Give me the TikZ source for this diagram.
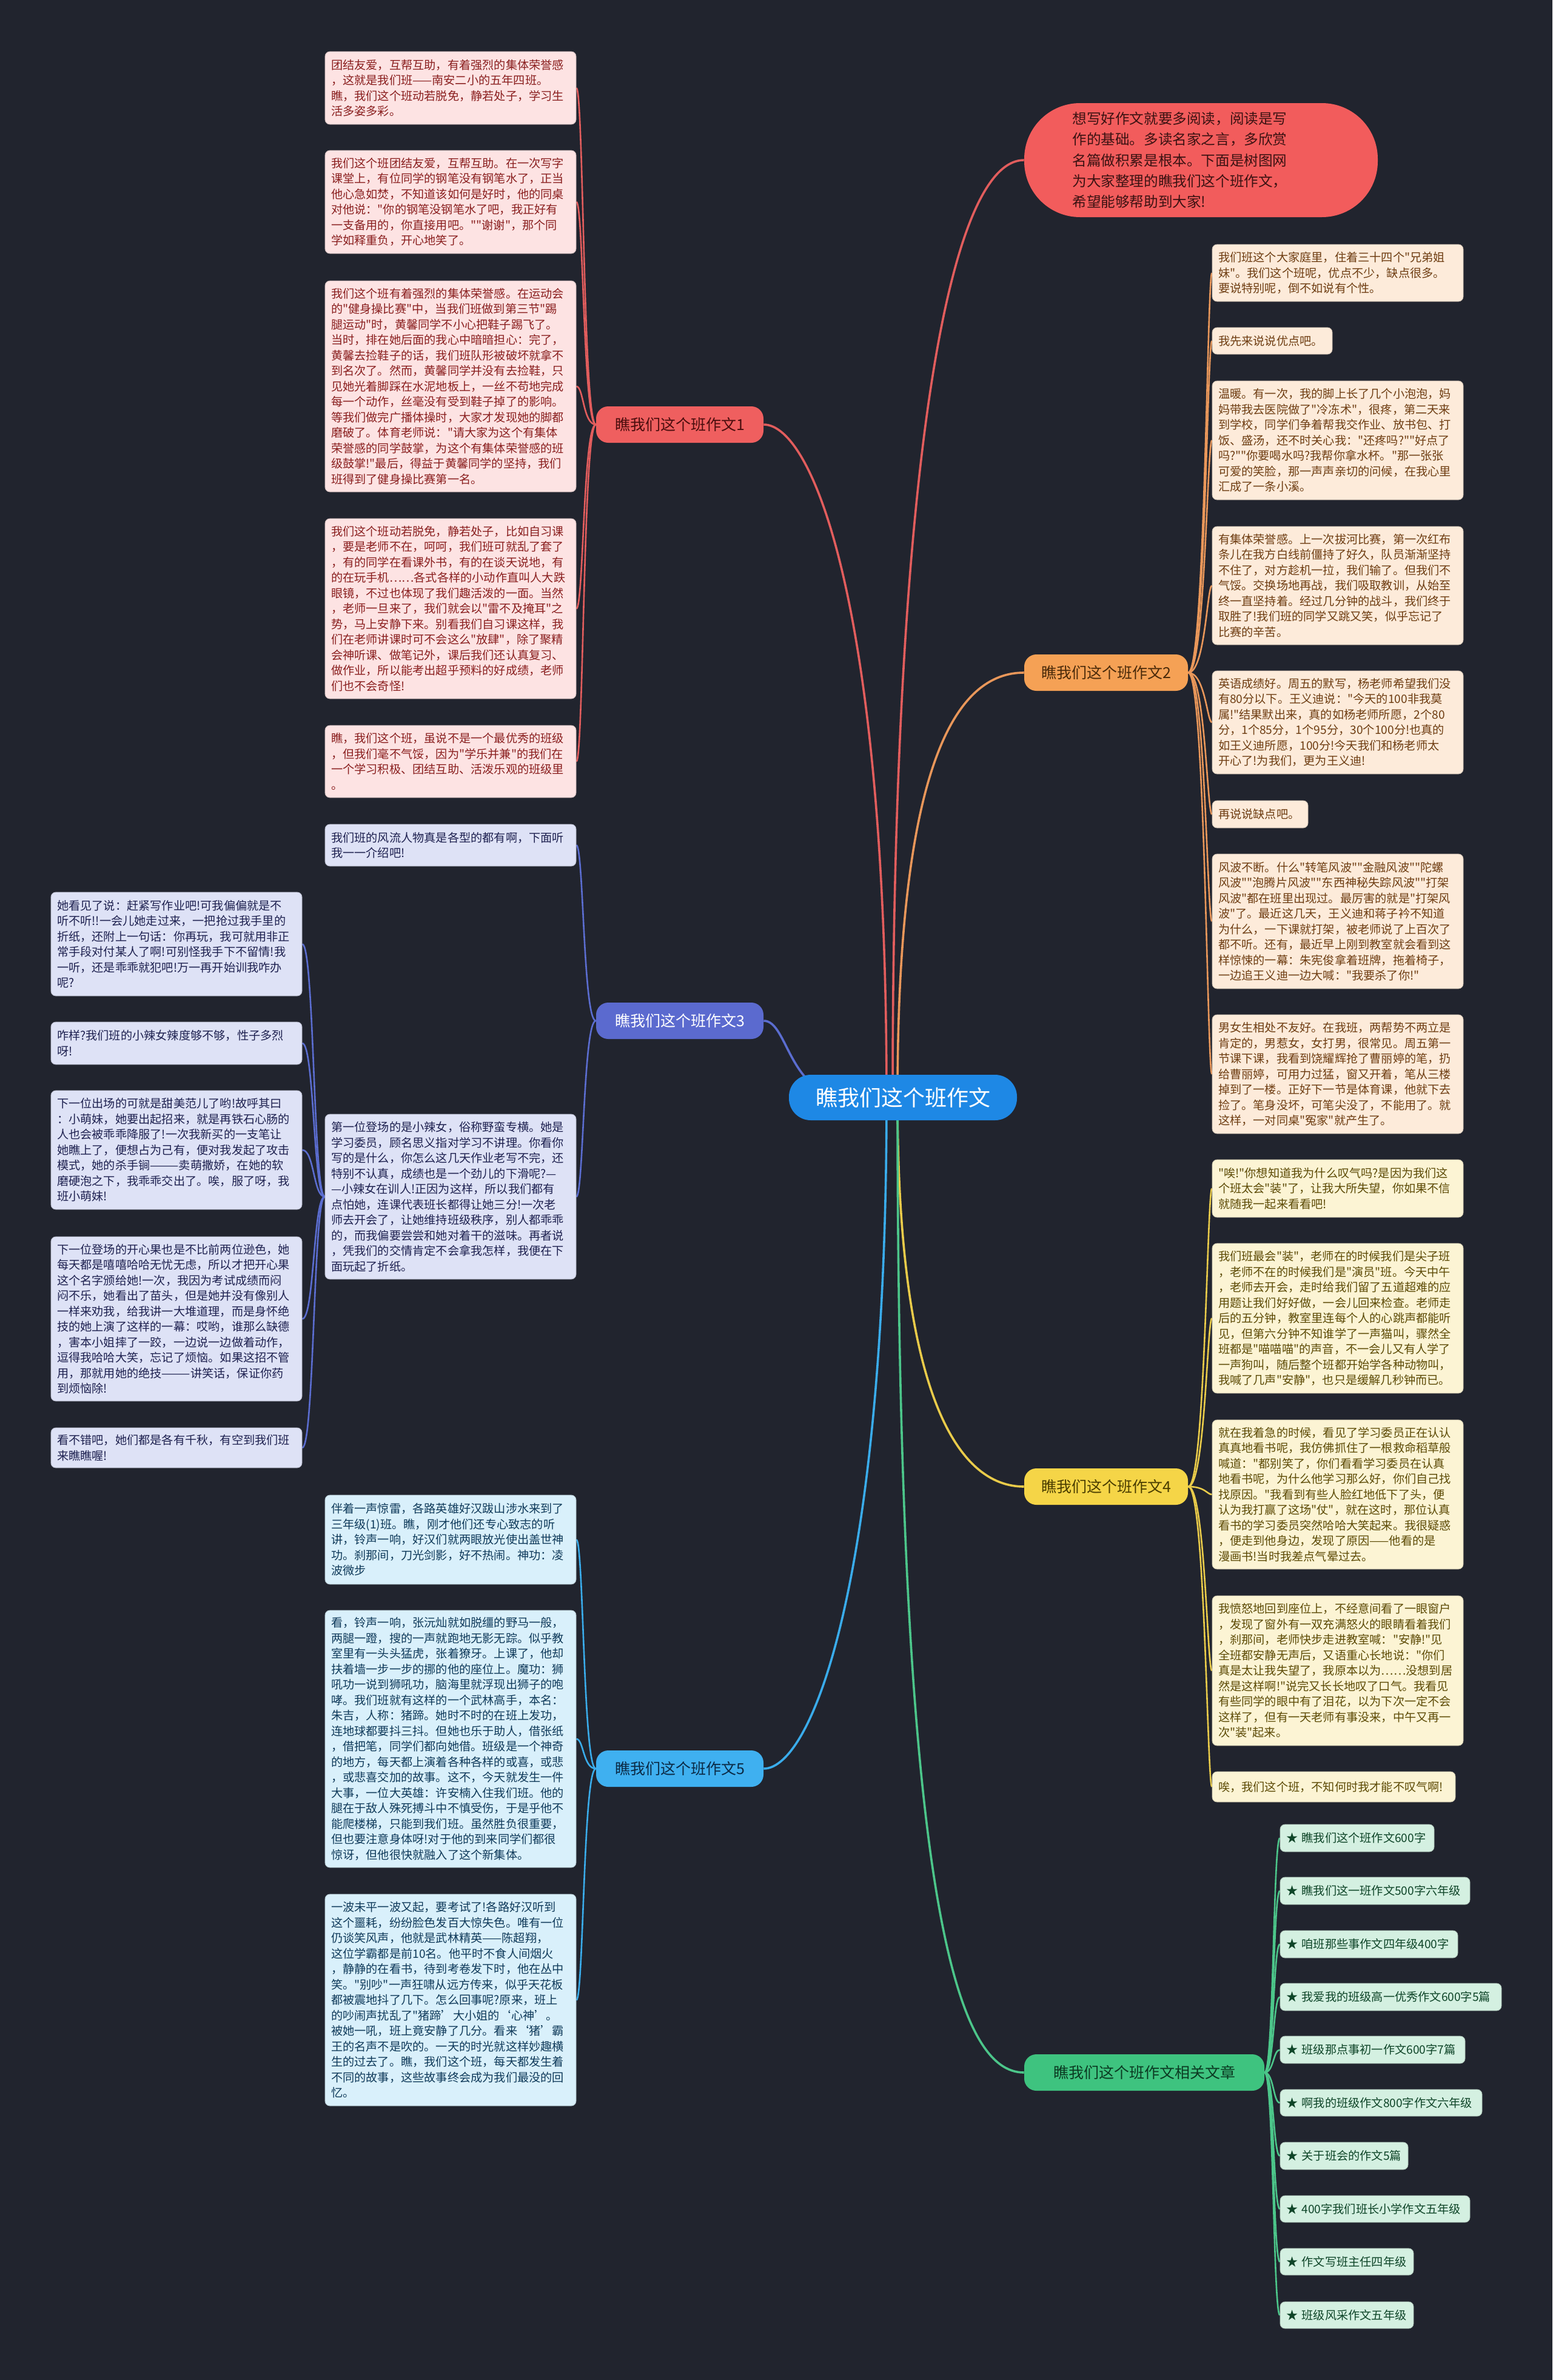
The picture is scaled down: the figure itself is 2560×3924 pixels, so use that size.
\documentclass[tikz,border=0pt]{standalone}
\usepackage{fontspec}
\setmainfont{Noto Sans CJK SC}[Ligatures=TeXOff]
\definecolor{bgcol}{HTML}{21242E}
\definecolor{cenfill}{HTML}{1E88E5}
\definecolor{bubfill}{HTML}{F25C5C}
\definecolor{bubtext}{HTML}{3B1212}
\definecolor{bAfill}{HTML}{EF5F5F}\definecolor{bAtext}{HTML}{4A0D0D}
\definecolor{bBfill}{HTML}{F5A155}\definecolor{bBtext}{HTML}{4A2A0A}
\definecolor{bCfill}{HTML}{5B6ACF}\definecolor{bCtext}{HTML}{FFFFFF}
\definecolor{bDfill}{HTML}{F5D547}\definecolor{bDtext}{HTML}{4A3D00}
\definecolor{bEfill}{HTML}{3FB0F0}\definecolor{bEtext}{HTML}{0B2A45}
\definecolor{bFfill}{HTML}{3EC37F}\definecolor{bFtext}{HTML}{0B3A22}
\definecolor{pinkfill}{HTML}{FDE3E3}\definecolor{pinktext}{HTML}{8A1F1F}
\definecolor{lavfill}{HTML}{DEE2F6}\definecolor{lavtext}{HTML}{1E2150}
\definecolor{peachfill}{HTML}{FDEBDA}\definecolor{peachtext}{HTML}{6E3D12}
\definecolor{yelfill}{HTML}{FCF4D4}\definecolor{yeltext}{HTML}{5C4A05}
\definecolor{cyanfill}{HTML}{D9F0FB}\definecolor{cyantext}{HTML}{0F3A5A}
\definecolor{mintfill}{HTML}{D4F0E1}\definecolor{minttext}{HTML}{0E4528}
\definecolor{lA}{HTML}{E25D5D}\definecolor{lB}{HTML}{E9975A}
\definecolor{lC}{HTML}{5B6DD0}\definecolor{lD}{HTML}{E9CB4A}
\definecolor{lE}{HTML}{3AACEB}\definecolor{lF}{HTML}{4CC68A}
\pgfdeclarelayer{bg}
\pgfsetlayers{bg,main}
\newcommand\leafbox[7]{%
  \pgfmathsetlengthmacro\lbw{(#5-#3)*0.5pt}%
  \pgfmathsetlengthmacro\lbh{(#6-#4)*0.5pt}%
  \pgfmathsetlengthmacro\lbt{(#5-#3)*0.5pt-10pt}%
  \node[#2, minimum width=\lbw, minimum height=\lbh, text width=\lbt] (#1) at ({(#3+#5)/2},{(#4+#6)/2}) {#7};%
}
\tikzset{
  box/.style={draw, line width=0.4pt, rounded corners=4pt, inner xsep=5pt, inner ysep=0pt, align=left, font=\fontsize{9.6}{12.75}\selectfont},
  pinkleaf/.style={box, fill=pinkfill, draw=pinkfill!80!black, text=pinktext},
  lavleaf/.style={box, fill=lavfill, draw=lavfill!80!black, text=lavtext},
  peachleaf/.style={box, fill=peachfill, draw=peachfill!80!black, text=peachtext},
  yelleaf/.style={box, fill=yelfill, draw=yelfill!80!black, text=yeltext},
  cyanleaf/.style={box, fill=cyanfill, draw=cyanfill!80!black, text=cyantext},
  mintleaf/.style={box, fill=mintfill, draw=mintfill!80!black, text=minttext},
  branchbox/.style={rounded corners=10pt, inner xsep=5pt, inner ysep=0pt, align=center, font=\fontsize{12.5}{15}\selectfont},
  main/.style={line width=1.8pt},
  sub/.style={line width=1.3pt},
}
\begin{document}
\begin{tikzpicture}[x=0.5pt,y=-0.5pt]
\useasboundingbox (0,0) rectangle (2560,3924);
\begin{pgfonlayer}{bg}
\fill[bgcol] (0,0) rectangle (2560,3924);
\end{pgfonlayer}

% center
\leafbox{cen}{branchbox, rounded corners=18pt, fill=cenfill, text=white, font=\fontsize{18}{22}\selectfont}{1301}{1772}{1677}{1847}{瞧我们这个班作文}
\coordinate (o) at (1489,1809);

% bubble
\leafbox{bub}{branchbox, rounded corners=46pt, fill=bubfill}{1689}{170}{2272}{358}{}
\node[anchor=west, align=left, text=bubtext, inner sep=0pt, font=\fontsize{11.8}{17.2}\selectfont] (bubtxt) at (1768,264) {想写好作文就要多阅读，阅读是写\\作的基础。多读名家之言，多欣赏\\名篇做积累是根本。下面是树图网\\为大家整理的瞧我们这个班作文，\\希望能够帮助到大家!};

% branches
\leafbox{bA}{branchbox, fill=bAfill, text=bAtext}{983}{670}{1259}{730}{瞧我们这个班作文1}
\leafbox{bB}{branchbox, fill=bBfill, text=bBtext}{1689}{1079}{1959}{1139}{瞧我们这个班作文2}
\leafbox{bC}{branchbox, fill=bCfill, text=bCtext}{983}{1653}{1259}{1713}{瞧我们这个班作文3}
\leafbox{bD}{branchbox, fill=bDfill, text=bDtext}{1689}{2421}{1959}{2481}{瞧我们这个班作文4}
\leafbox{bE}{branchbox, fill=bEfill, text=bEtext}{983}{2886}{1259}{2946}{瞧我们这个班作文5}
\leafbox{bF}{branchbox, fill=bFfill, text=bFtext}{1689}{3387}{2085}{3447}{瞧我们这个班作文相关文章}

% branch 1 leaves
\leafbox{a1}{pinkleaf}{536}{85}{950}{205}{团结友爱，互帮互助，有着强烈的集体荣誉感\\，这就是我们班——南安二小的五年四班。\\瞧，我们这个班动若脱免，静若处子，学习生\\活多姿多彩。}
\leafbox{a2}{pinkleaf}{536}{248}{950}{418}{我们这个班团结友爱，互帮互助。在一次写字\\课堂上，有位同学的钢笔没有钢笔水了，正当\\他心急如焚，不知道该如何是好时，他的同桌\\对他说："你的钢笔没钢笔水了吧，我正好有\\一支备用的，你直接用吧。""谢谢"，那个同\\学如释重负，开心地笑了。}
\leafbox{a3}{pinkleaf}{536}{463}{950}{811}{我们这个班有着强烈的集体荣誉感。在运动会\\的"健身操比赛"中，当我们班做到第三节"踢\\腿运动"时，黄馨同学不小心把鞋子踢飞了。\\当时，排在她后面的我心中暗暗担心：完了，\\黄馨去捡鞋子的话，我们班队形被破坏就拿不\\到名次了。然而，黄馨同学并没有去捡鞋，只\\见她光着脚踩在水泥地板上，一丝不苟地完成\\每一个动作，丝毫没有受到鞋子掉了的影响。\\等我们做完广播体操时，大家才发现她的脚都\\磨破了。体育老师说："请大家为这个有集体\\荣誉感的同学鼓掌，为这个有集体荣誉感的班\\级鼓掌!"最后，得益于黄馨同学的坚持，我们\\班得到了健身操比赛第一名。}
\leafbox{a4}{pinkleaf}{536}{855}{950}{1152}{我们这个班动若脱免，静若处子，比如自习课\\，要是老师不在，呵呵，我们班可就乱了套了\\，有的同学在看课外书，有的在谈天说地，有\\的在玩手机……各式各样的小动作直叫人大跌\\眼镜，不过也体现了我们趣活泼的一面。当然\\，老师一旦来了，我们就会以"雷不及掩耳"之\\势，马上安静下来。别看我们自习课这样，我\\们在老师讲课时可不会这么"放肆"，除了聚精\\会神听课、做笔记外，课后我们还认真复习、\\做作业，所以能考出超乎预料的好成绩，老师\\们也不会奇怪!}
\leafbox{a5}{pinkleaf}{536}{1196}{950}{1315}{瞧，我们这个班，虽说不是一个最优秀的班级\\，但我们毫不气馁，因为"学乐并兼"的我们在\\一个学习积极、团结互助、活泼乐观的班级里\\。}

% branch 3 leaves
\leafbox{p1}{lavleaf}{536}{1359}{950}{1428}{我们班的风流人物真是各型的都有啊，下面听\\我一一介绍吧!}
\leafbox{p2}{lavleaf}{536}{1837}{950}{2109}{第一位登场的是小辣女，俗称野蛮专横。她是\\学习委员，顾名思义指对学习不讲理。你看你\\写的是什么，你怎么这几天作业老写不完，还\\特别不认真，成绩也是一个劲儿的下滑呢?—\\—小辣女在训人!正因为这样，所以我们都有\\点怕她，连课代表班长都得让她三分!一次老\\师去开会了，让她维持班级秩序，别人都乖乖\\的，而我偏要尝尝和她对着干的滋味。再者说\\，凭我们的交情肯定不会拿我怎样，我便在下\\面玩起了折纸。}
\leafbox{l1}{lavleaf}{84}{1471}{498}{1642}{她看见了说：赶紧写作业吧!可我偏偏就是不\\听不听!!一会儿她走过来，一把抢过我手里的\\折纸，还附上一句话：你再玩，我可就用非正\\常手段对付某人了啊!可别怪我手下不留情!我\\一听，还是乖乖就犯吧!万一再开始训我咋办\\呢?}
\leafbox{l2}{lavleaf}{84}{1685}{498}{1755}{咋样?我们班的小辣女辣度够不够，性子多烈\\呀!}
\leafbox{l3}{lavleaf}{84}{1798}{498}{1994}{下一位出场的可就是甜美范儿了哟!故呼其曰\\：小萌妹，她要出起招来，就是再铁石心肠的\\人也会被乖乖降服了!一次我新买的一支笔让\\她瞧上了，便想占为己有，便对我发起了攻击\\模式，她的杀手锏———卖萌撒娇，在她的软\\磨硬泡之下，我乖乖交出了。唉，服了呀，我\\班小萌妹!}
\leafbox{l4}{lavleaf}{84}{2039}{498}{2310}{下一位登场的开心果也是不比前两位逊色，她\\每天都是嘻嘻哈哈无忧无虑，所以才把开心果\\这个名字颁给她!一次，我因为考试成绩而闷\\闷不乐，她看出了苗头，但是她并没有像别人\\一样来劝我，给我讲一大堆道理，而是身怀绝\\技的她上演了这样的一幕：哎哟，谁那么缺德\\，害本小姐摔了一跤，一边说一边做着动作，\\逗得我哈哈大笑，忘记了烦恼。如果这招不管\\用，那就用她的绝技———讲笑话，保证你药\\到烦恼除!}
\leafbox{l5}{lavleaf}{84}{2354}{498}{2420}{看不错吧，她们都是各有千秋，有空到我们班\\来瞧瞧喔!}

% branch 5 leaves
\leafbox{c1}{cyanleaf}{536}{2465}{950}{2612}{伴着一声惊雷，各路英雄好汉跋山涉水来到了\\三年级(1)班。瞧，刚才他们还专心致志的听\\讲，铃声一响，好汉们就两眼放光使出盖世神\\功。刹那间，刀光剑影，好不热闹。神功：凌\\波微步}
\leafbox{c2}{cyanleaf}{536}{2655}{950}{3079}{看，铃声一响，张沅灿就如脱缰的野马一般，\\两腿一蹬，搜的一声就跑地无影无踪。似乎教\\室里有一头头猛虎，张着獠牙。上课了，他却\\扶着墙一步一步的挪的他的座位上。魔功：狮\\吼功一说到狮吼功，脑海里就浮现出狮子的咆\\哮。我们班就有这样的一个武林高手，本名：\\朱吉，人称：猪蹄。她时不时的在班上发功，\\连地球都要抖三抖。但她也乐于助人，借张纸\\，借把笔，同学们都向她借。班级是一个神奇\\的地方，每天都上演着各种各样的或喜，或悲\\，或悲喜交加的故事。这不，今天就发生一件\\大事，一位大英雄：许安楠入住我们班。他的\\腿在于敌人殊死搏斗中不慎受伤，于是乎他不\\能爬楼梯，只能到我们班。虽然胜负很重要，\\但也要注意身体呀!对于他的到来同学们都很\\惊讶，但他很快就融入了这个新集体。}
\leafbox{c3}{cyanleaf}{536}{3123}{950}{3472}{一波未平一波又起，要考试了!各路好汉听到\\这个噩耗，纷纷脸色发百大惊失色。唯有一位\\仍谈笑风声，他就是武林精英——陈超翔，\\这位学霸都是前10名。他平时不食人间烟火\\，静静的在看书，待到考卷发下时，他在丛中\\笑。"别吵"一声狂啸从远方传来，似乎天花板\\都被震地抖了几下。怎么回事呢?原来，班上\\的吵闹声扰乱了"猪蹄’大小姐的‘心神’。\\被她一吼，班上竟安静了几分。看来‘猪’霸\\王的名声不是吹的。一天的时光就这样妙趣横\\生的过去了。瞧，我们这个班，每天都发生着\\不同的故事，这些故事终会成为我们最没的回\\忆。}

% branch 2 leaves
\leafbox{o1}{peachleaf}{1999}{403}{2413}{497}{我们班这个大家庭里，住着三十四个"兄弟姐\\妹"。我们这个班呢，优点不少，缺点很多。\\要说特别呢，倒不如说有个性。}
\leafbox{o2}{peachleaf}{1999}{540}{2197}{584}{我先来说说优点吧。}
\leafbox{o3}{peachleaf}{1999}{628}{2413}{824}{温暖。有一次，我的脚上长了几个小泡泡，妈\\妈带我去医院做了"冷冻术"，很疼，第二天来\\到学校，同学们争着帮我交作业、放书包、打\\饭、盛汤，还不时关心我："还疼吗?""好点了\\吗?""你要喝水吗?我帮你拿水杯。"那一张张\\可爱的笑脸，那一声声亲切的问候，在我心里\\汇成了一条小溪。}
\leafbox{o4}{peachleaf}{1999}{868}{2413}{1063}{有集体荣誉感。上一次拔河比赛，第一次红布\\条儿在我方白线前僵持了好久，队员渐渐坚持\\不住了，对方趁机一拉，我们输了。但我们不\\气馁。交换场地再战，我们吸取教训，从始至\\终一直坚持着。经过几分钟的战斗，我们终于\\取胜了!我们班的同学又跳又笑，似乎忘记了\\比赛的辛苦。}
\leafbox{o5}{peachleaf}{1999}{1106}{2413}{1276}{英语成绩好。周五的默写，杨老师希望我们没\\有80分以下。王义迪说："今天的100非我莫\\属!"结果默出来，真的如杨老师所愿，2个80\\分，1个85分，1个95分，30个100分!也真的\\如王义迪所愿，100分!今天我们和杨老师太\\开心了!为我们，更为王义迪!}
\leafbox{o6}{peachleaf}{1999}{1320}{2157}{1365}{再说说缺点吧。}
\leafbox{o7}{peachleaf}{1999}{1408}{2413}{1630}{风波不断。什么"转笔风波""金融风波""陀螺\\风波""泡腾片风波""东西神秘失踪风波""打架\\风波"都在班里出现过。最厉害的就是"打架风\\波"了。最近这几天，王义迪和蒋子衿不知道\\为什么，一下课就打架，被老师说了上百次了\\都不听。还有，最近早上刚到教室就会看到这\\样惊悚的一幕：朱宪俊拿着班牌，拖着椅子，\\一边追王义迪一边大喊："我要杀了你!"}
\leafbox{o8}{peachleaf}{1999}{1673}{2413}{1869}{男女生相处不友好。在我班，两帮势不两立是\\肯定的，男惹女，女打男，很常见。周五第一\\节课下课，我看到饶耀辉抢了曹丽婷的笔，扔\\给曹丽婷，可用力过猛，窗又开着，笔从三楼\\掉到了一楼。正好下一节是体育课，他就下去\\捡了。笔身没坏，可笔尖没了，不能用了。就\\这样，一对同桌"冤家"就产生了。}

% branch 4 leaves
\leafbox{y1}{yelleaf}{1999}{1912}{2413}{2007}{"唉!"你想知道我为什么叹气吗?是因为我们这\\个班太会"装"了，让我大所失望，你如果不信\\就随我一起来看看吧!}
\leafbox{y2}{yelleaf}{1999}{2050}{2413}{2297}{我们班最会"装"，老师在的时候我们是尖子班\\，老师不在的时候我们是"演员"班。今天中午\\，老师去开会，走时给我们留了五道超难的应\\用题让我们好好做，一会儿回来检查。老师走\\后的五分钟，教室里连每个人的心跳声都能听\\见，但第六分钟不知谁学了一声猫叫，骤然全\\班都是"喵喵喵"的声音，不一会儿又有人学了\\一声狗叫，随后整个班都开始学各种动物叫，\\我喊了几声"安静"，也只是缓解几秒钟而已。}
\leafbox{y3}{yelleaf}{1999}{2341}{2413}{2587}{就在我着急的时候，看见了学习委员正在认认\\真真地看书呢，我仿佛抓住了一根救命稻草般\\喊道："都别笑了，你们看看学习委员在认真\\地看书呢，为什么他学习那么好，你们自己找\\找原因。"我看到有些人脸红地低下了头，便\\认为我打赢了这场"仗"，就在这时，那位认真\\看书的学习委员突然哈哈大笑起来。我很疑惑\\，便走到他身边，发现了原因——他看的是\\漫画书!当时我差点气晕过去。}
\leafbox{y4}{yelleaf}{1999}{2631}{2413}{2878}{我愤怒地回到座位上，不经意间看了一眼窗户\\，发现了窗外有一双充满怒火的眼睛看着我们\\，刹那间，老师快步走进教室喊："安静!"见\\全班都安静无声后，又语重心长地说："你们\\真是太让我失望了，我原本以为……没想到居\\然是这样啊!"说完又长长地叹了口气。我看见\\有些同学的眼中有了泪花，以为下次一定不会\\这样了，但有一天老师有事没来，中午又再一\\次"装"起来。}
\leafbox{y5}{yelleaf}{1999}{2921}{2400}{2971}{唉，我们这个班，不知何时我才能不叹气啊!}

% branch 6 leaves
\leafbox{g1}{mintleaf}{2111}{3008}{2365}{3053}{★ 瞧我们这个班作文600字}
\leafbox{g2}{mintleaf}{2111}{3095}{2424}{3140}{★ 瞧我们这一班作文500字六年级}
\leafbox{g3}{mintleaf}{2111}{3183}{2404}{3228}{★ 咱班那些事作文四年级400字}
\leafbox{g4}{mintleaf}{2111}{3270}{2476}{3315}{★ 我爱我的班级高一优秀作文600字5篇}
\leafbox{g5}{mintleaf}{2111}{3357}{2416}{3402}{★ 班级那点事初一作文600字7篇}
\leafbox{g6}{mintleaf}{2111}{3445}{2444}{3489}{★ 啊我的班级作文800字作文六年级}
\leafbox{g7}{mintleaf}{2111}{3532}{2322}{3577}{★ 关于班会的作文5篇}
\leafbox{g8}{mintleaf}{2111}{3620}{2424}{3664}{★ 400字我们班长小学作文五年级}
\leafbox{g9}{mintleaf}{2111}{3707}{2331}{3751}{★ 作文写班主任四年级}
\leafbox{g10}{mintleaf}{2111}{3795}{2331}{3839}{★ 班级风采作文五年级}

\begin{pgfonlayer}{bg}
% center connectors
\draw[main, lA] (1462,1809) .. controls (1462,1000) and (1340,700) .. (bA.east);
\draw[main, lA] (1472,1809) .. controls (1472,800) and (1560,264) .. (bub.west);
\draw[main, lB] (1480,1809) .. controls (1480,1250) and (1580,1109) .. (bB.west);
\draw[main, lC] (1400,1809) .. controls (1300,1809) and (1300,1683) .. (bC.east);
\draw[main, lD] (1480,1809) .. controls (1480,2300) and (1580,2451) .. (bD.west);
\draw[main, lE] (1462,1809) .. controls (1462,2600) and (1340,2916) .. (bE.east);
\draw[main, lF] (1480,1809) .. controls (1480,3150) and (1580,3417) .. (bF.west);
% leaf connectors
\foreach \c in {a1,a2,a3,a4,a5}
  \draw[sub, lA] (bA.west) .. controls +(-21,0) and +(12,0) .. (\c.east);
\foreach \c in {p1,p2}
  \draw[sub, lC] (bC.west) .. controls +(-21,0) and +(12,0) .. (\c.east);
\foreach \c in {l1,l2,l3,l4,l5}
  \draw[sub, lC] (p2.west) .. controls +(-19,0) and +(20,0) .. (\c.east);
\foreach \c in {c1,c2,c3}
  \draw[sub, lE] (bE.west) .. controls +(-21,0) and +(12,0) .. (\c.east);
\foreach \c in {o1,o2,o3,o4,o5,o6,o7,o8}
  \draw[sub, lB] (bB.east) .. controls +(28,0) and +(-8,0) .. (\c.west);
\foreach \c in {y1,y2,y3,y4,y5}
  \draw[sub, lD] (bD.east) .. controls +(28,0) and +(-8,0) .. (\c.west);
\foreach \c in {g1,g2,g3,g4,g5,g6,g7,g8,g9,g10}
  \draw[sub, lF] (bF.east) .. controls +(15,0) and +(-11,0) .. (\c.west);
\end{pgfonlayer}
\end{tikzpicture}
\end{document}
